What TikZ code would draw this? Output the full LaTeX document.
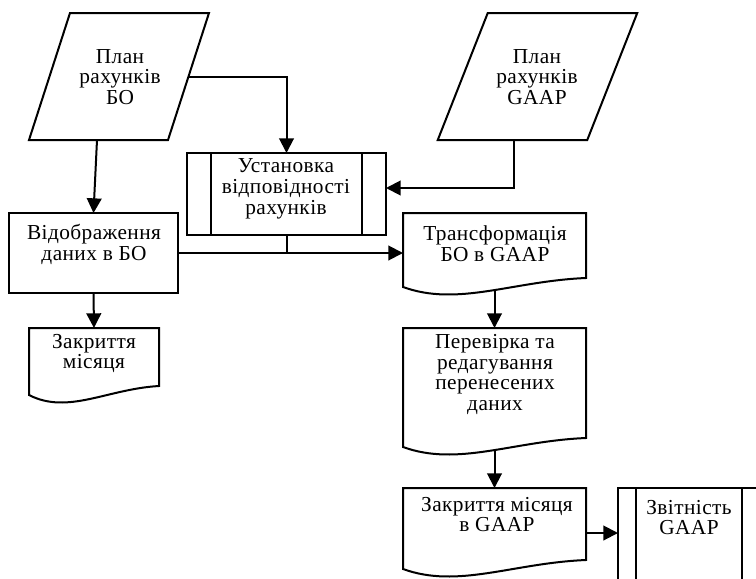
\documentclass[tikz,border=0pt]{standalone}
\usepackage{fontspec}
\setmainfont[LetterSpace=2]{Liberation Serif}
\usetikzlibrary{calc,arrows.meta}

\tikzset{
  shp/.style={line width=1.5pt, line join=miter},
  blk/.style={rectangle, inner sep=0pt, outer sep=0pt},
  procbox/.style={blk, draw, shp},
  txt/.style={align=center, inner sep=0pt, font=\fontsize{16}{15.6}\selectfont},
  arr/.style={shp, -{Triangle[length=11pt,width=11pt]}},
}

% document shape with wavy bottom
\newcommand{\docshape}[1]{%
  \draw[shp] (#1.south west) -- (#1.north west) -- (#1.north east) -- ($(#1.south east)+(0,-9)$)
    .. controls ($(#1.south west)!0.6!(#1.south east)+(0,-6)$) and ($(#1.south west)!0.3!(#1.south east)+(0,20)$) .. (#1.south west) -- cycle;}
% inner bars of a predefined process
\newcommand{\predef}[2]{%
  \draw[line width=1.1pt] ($(#1.north west)+(#2,0)$) -- ($(#1.south west)+(#2,0)$)
    ($(#1.north east)+(-#2,0)$) -- ($(#1.south east)+(-#2,0)$);}
% parallelogram (data)
\newcommand{\paral}[2]{%
  \draw[shp] ($(#1.north west)+(#2,0)$) -- ($(#1.north east)+(#2,0)$) -- ($(#1.south east)+(-#2,0)$) -- ($(#1.south west)+(-#2,0)$) -- cycle;}

\begin{document}
\begin{tikzpicture}[x=0.75pt,y=-0.75pt]
  \useasboundingbox[fill=white] (0,0) rectangle (756,578);

  % shapes
  \node[blk, minimum width=104.25pt, minimum height=95.25pt] (planbo) at (119,76.5) {};
  \node[blk, minimum width=112.125pt, minimum height=95.25pt] (plangaap) at (537.5,76.5) {};
  \node[procbox, minimum width=149.25pt, minimum height=61.5pt] (inst) at (286.5,194) {};
  \node[procbox, minimum width=126.75pt, minimum height=60pt] (disp) at (93.5,253) {};
  \node[blk, minimum width=97.5pt, minimum height=50.25pt] (closebo) at (94,361.5) {};
  \node[blk, minimum width=137.25pt, minimum height=55.5pt] (trans) at (494.5,250) {};
  \node[blk, minimum width=137.25pt, minimum height=89.25pt] (check) at (494.5,387.5) {};
  \node[blk, minimum width=137.25pt, minimum height=60.75pt] (closeg) at (494.5,528.5) {};
  \node[procbox, minimum width=106.5pt, minimum height=82.5pt] (zvit) at (689,543) {};

  \paral{planbo}{20.5}
  \paral{plangaap}{25}
  \predef{inst}{24}
  \predef{zvit}{18}
  \docshape{closebo}
  \docshape{trans}
  \docshape{check}
  \docshape{closeg}

  % texts
  \node[txt] (planbo-t) at (120,77) {План\\рахунків\\БО};
  \node[txt] (plangaap-t) at (537,77) {План\\рахунків\\GAAP};
  \node[txt] (inst-t) at (286,189) {Установка\\відповідності\\рахунків};
  \node[txt] (disp-t) at (94,244.5) {Відображення\\даних в БО};
  \node[txt] (closebo-t) at (94,353.5) {Закриття\\місяця};
  \node[txt] (trans-t) at (495,243.5) {Трансформація\\БО в GAAP};
  \node[txt] (check-t) at (495,374.5) {Перевірка та\\редагування\\перенесених\\даних};
  \node[txt] (closeg-t) at (497,514.5) {Закриття місяця\\в GAAP};
  \node[txt] (zvit-t) at (689,517.5) {Звітність\\GAAP};

  % connectors
  \draw[arr] ($(planbo.south)+(-22,0)$) -- (disp.north);
  \draw[arr] (planbo.east) -| (inst.north);
  \draw[arr] ($(plangaap.south)+(-24,0)$) |- ($(inst.east)+(0,-6)$);
  \draw[arr] (disp.east) -- (disp.east -| trans.west);
  \draw[shp] (inst.south) -- (inst.south |- disp.east);
  \draw[arr] (disp.south) -- (closebo.north);
  \draw[arr] ($(trans.south)+(0,3)$) -- (check.north);
  \draw[arr] ($(check.south)+(0,3)$) -- (closeg.north);
  \coordinate (cz) at ($(closeg.east)+(0,4.5)$);
  \draw[arr] (cz) -- (cz -| zvit.west);
\end{tikzpicture}
\end{document}
